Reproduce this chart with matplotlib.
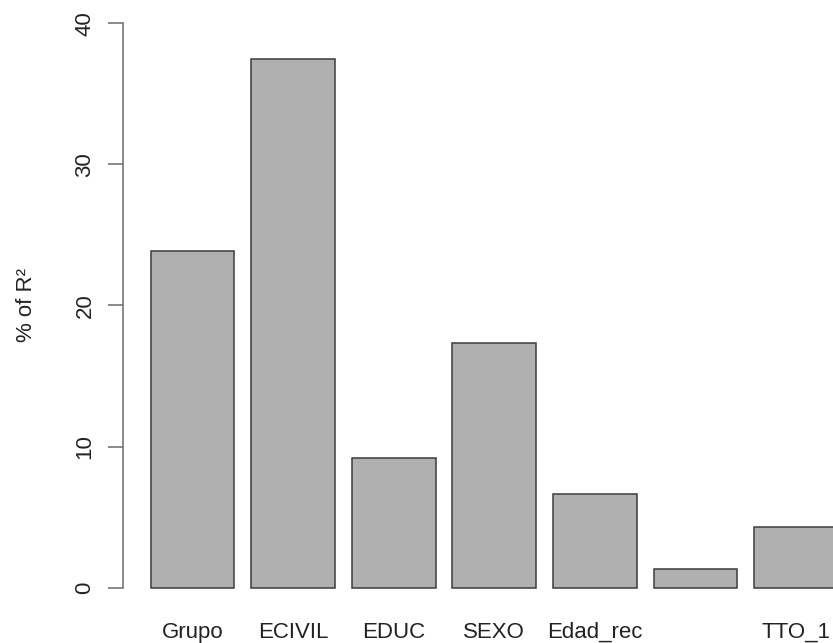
import matplotlib
matplotlib.use("Agg")
import matplotlib.pyplot as plt

# Relative importance (% of R2) per predictor
variables = ["Grupo", "ECIVIL", "EDUC", "SEXO", "Edad_rec", "", "TTO_1"]
pct_r2 = [23.87, 37.5, 9.16, 17.35, 6.63, 1.33, 4.27]
y_ticks = [0, 10, 20, 30, 40]

plt.rcParams["font.family"] = ["Liberation Sans", "DejaVu Sans"]

fig = plt.figure(figsize=(8.33, 6.43), dpi=100)
ax = fig.add_axes([123 / 833, 55.3 / 643, 710 / 833, 587.7 / 643])

pos = list(range(len(variables)))
ax.bar(pos, pct_r2, width=1 / 1.2, color="#b0b0b0", edgecolor="#3c3c3c",
       linewidth=1.1, clip_on=False)

ax.set_xlim(-0.691, 6.367)
ax.set_ylim(0, 41.65)

for s in ["top", "right", "bottom"]:
    ax.spines[s].set_visible(False)
ax.spines["left"].set_bounds(0, 40)
ax.spines["left"].set_color("#777777")
ax.spines["left"].set_linewidth(1.2)

ax.set_yticks(y_ticks)
ax.set_yticklabels([str(t) for t in y_ticks], rotation=90, va="center")
ax.tick_params(axis="y", length=10.8, width=1.2, color="#777777", pad=9,
               labelsize=16, labelcolor="#222222")

ax.set_xticks(pos)
ax.set_xticklabels(variables, va="baseline")
ax.tick_params(axis="x", length=0, pad=36, labelsize=16, labelcolor="#222222")

ax.set_ylabel("% of R²", fontsize=16, color="#222222")
ax.yaxis.set_label_coords(-0.121, 20 / 41.65)

fig.savefig("out.png", dpi=100)
